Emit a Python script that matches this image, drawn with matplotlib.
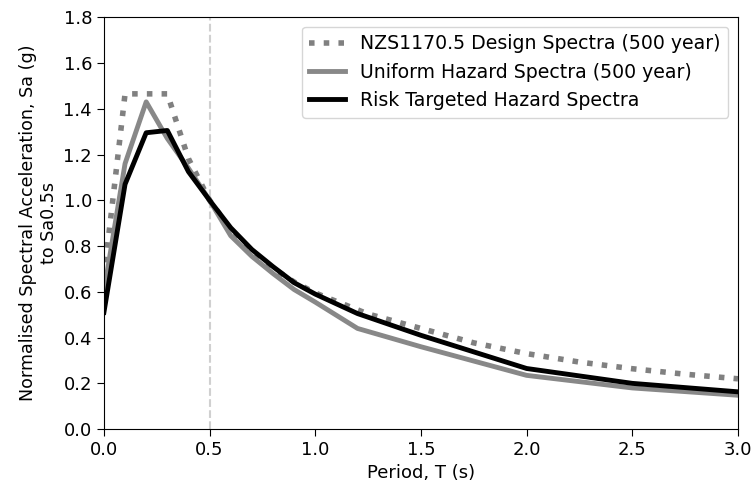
import numpy as np
import matplotlib
matplotlib.use("Agg")
import matplotlib.pyplot as plt

# periodos (s)
T_design = [0.0, 0.1, 0.2, 0.3, 0.4, 0.5, 0.6, 0.7, 0.8, 0.9, 1.0,
            1.25, 1.5, 1.75, 2.0, 2.25, 2.5, 2.75, 3.0]
sa_design = [0.665, 1.465, 1.465, 1.465, 1.182, 1.0, 0.872, 0.777, 0.703, 0.643, 0.595,
             0.503, 0.44, 0.377, 0.33, 0.293, 0.264, 0.24, 0.22]

T_haz = [0.0, 0.1, 0.2, 0.3, 0.4, 0.5, 0.6, 0.7, 0.8, 0.9, 1.0, 1.2, 1.5, 2.0, 2.5, 3.0]
sa_uhs = [0.60, 1.16, 1.43, 1.27, 1.14, 1.0, 0.845, 0.755, 0.68, 0.61, 0.555,
          0.44, 0.36, 0.235, 0.18, 0.148]
sa_rths = [0.51, 1.07, 1.295, 1.305, 1.125, 1.0, 0.88, 0.785, 0.71, 0.64, 0.59,
           0.505, 0.41, 0.265, 0.20, 0.163]

fig = plt.figure(figsize=(7.53, 4.91), dpi=100)
ax = fig.add_axes([0.138, 0.126, 0.842, 0.839])

ax.axvline(0.5, color="#d0d0d0", linestyle="--", linewidth=1.5, zorder=1)
ax.plot(T_design, sa_design, linestyle=":", color="#808080", linewidth=4,
        label="NZS1170.5 Design Spectra (500 year)")
ax.plot(T_haz, sa_uhs, color="#888888", linewidth=3.5,
        label="Uniform Hazard Spectra (500 year)")
ax.plot(T_haz, sa_rths, color="black", linewidth=3.5,
        label="Risk Targeted Hazard Spectra")

ax.set_xlim(0, 3.0)
ax.set_ylim(0, 1.8)
ax.set_xticks(np.arange(0, 3.01, 0.5))
ax.set_yticks(np.arange(0, 1.81, 0.2))
ax.tick_params(labelsize=13, length=5)
ax.set_xlabel("Period, T (s)", fontsize=13)
ax.set_ylabel("Normalised Spectral Acceleration, Sa (g)\nto Sa0.5s", fontsize=12.6)
ax.legend(loc="upper right", fontsize=13.6, handlelength=1.9)

fig.savefig("out.png", dpi=100)
